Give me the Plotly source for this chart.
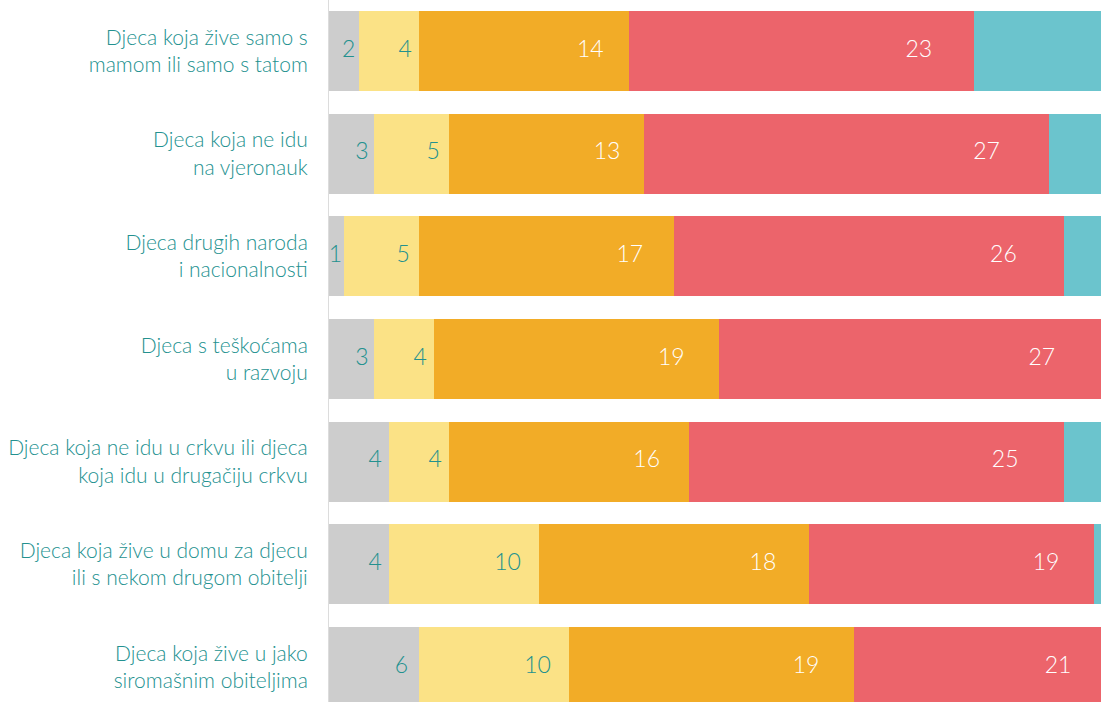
import plotly.graph_objects as go

# Row labels, top to bottom
categories = [
    "Djeca koja žive samo s<br>mamom ili samo s tatom",
    "Djeca koja ne idu<br>na vjeronauk",
    "Djeca drugih naroda<br>i nacionalnosti",
    "Djeca s teškoćama<br>u razvoju",
    "Djeca koja ne idu u crkvu ili djeca<br>koja idu u drugačiju crkvu",
    "Djeca koja žive u domu za djecu<br>ili s nekom drugom obitelji",
    "Djeca koja žive u jako<br>siromašnim obiteljima",
]

# Stacked segments (percent), left to right
seg_gray = [2, 3, 1, 3, 4, 4, 6]
seg_yellow = [4, 5, 5, 4, 4, 10, 10]
seg_orange = [14, 13, 17, 19, 16, 18, 19]
seg_red = [23, 27, 26, 27, 25, 19, 21]
seg_teal = [57, 52, 51, 47, 51, 49, 44]

TEAL_TEXT = "#23918f"
FONT = "Lato"
X_MAX = 51.5          # visible part of the 0-100 scale
LABEL_POS = 0.88      # label's right edge, as a share of the visible segment

rows = list(range(len(categories)))

series = [
    (seg_gray, "#cdcdcd", TEAL_TEXT, True),
    (seg_yellow, "#fbe286", TEAL_TEXT, True),
    (seg_orange, "#f2ac27", "#ffffff", True),
    (seg_red, "#ec646b", "#ffffff", True),
    (seg_teal, "#6bc4cd", "#ffffff", False),
]

fig = go.Figure()
start = [0] * len(rows)
label_traces = []
for values, color, txtcolor, labelled in series:
    fig.add_trace(go.Bar(
        x=values,
        y=rows,
        orientation="h",
        marker=dict(color=color, line=dict(width=0)),
        hoverinfo="skip",
    ))
    if labelled:
        xs = []
        for i, v in enumerate(values):
            lo = start[i]
            hi = min(lo + v, X_MAX)
            xs.append(lo + LABEL_POS * (hi - lo))
        label_traces.append(go.Scatter(
            x=xs,
            y=rows,
            mode="text",
            text=[str(v) for v in values],
            textposition="middle left",
            textfont=dict(family=FONT, size=23, color=txtcolor, weight=300),
            hoverinfo="skip",
            cliponaxis=False,
        ))
    start = [s + v for s, v in zip(start, values)]

for t in label_traces:
    fig.add_trace(t)

fig.update_layout(
    width=1101,
    height=702,
    barmode="stack",
    bargap=0.22,
    showlegend=False,
    plot_bgcolor="white",
    paper_bgcolor="white",
    margin=dict(l=329, r=0, t=0, b=0),
    xaxis=dict(range=[0, X_MAX], visible=False, fixedrange=True),
    yaxis=dict(
        range=[6.341, -0.497],
        tickmode="array",
        tickvals=rows,
        ticktext=categories,
        tickfont=dict(family=FONT, size=21, color=TEAL_TEXT, weight=300),
        showgrid=False,
        zeroline=False,
        showline=True,
        linecolor="#dcdcdc",
        linewidth=1,
        ticks="",
        ticklabelstandoff=16,
        automargin=False,
    ),
)

fig.write_html("out.html")
